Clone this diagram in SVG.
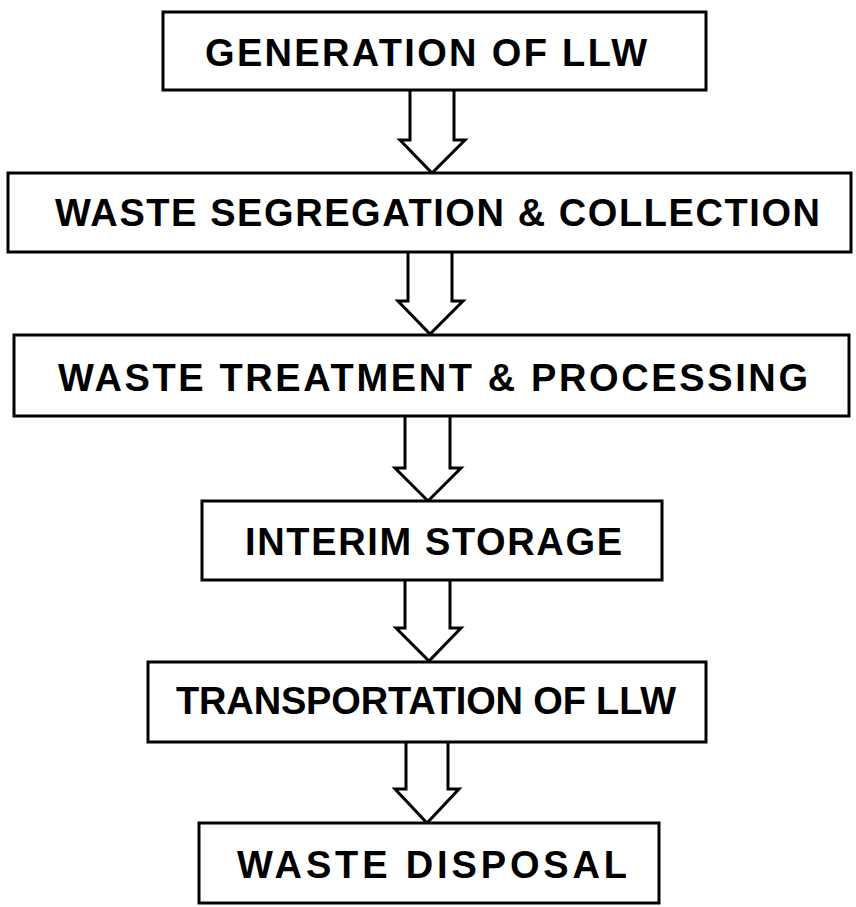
<svg xmlns="http://www.w3.org/2000/svg" width="856" height="907" viewBox="0 0 856 907">
<style>
.box{fill:#fff;stroke:#000;stroke-width:3}
.arr{fill:#fff;stroke:#000;stroke-width:3;stroke-linejoin:miter}
.lbl{font-family:"Liberation Sans",Arial,sans-serif;font-weight:bold;font-size:38px;fill:#000}
</style>
<rect width="856" height="907" fill="#fff"/>
<g id="connectors">
<path class="arr" d="M410,90 V140 H400 L432,173 L465,140 H454 V90"/>
<path class="arr" d="M408,252 V301 H398 L430,334 L463,301 H452 V252"/>
<path class="arr" d="M405,416 V468 H395 L428,501 L461,468 H450 V416"/>
<path class="arr" d="M405,580 V628 H396 L429,661 L461,628 H450 V580"/>
<path class="arr" d="M406,742 V789 H395 L427,823 L459,789 H448 V742"/>
</g>
<g id="n1"><rect class="box" x="163" y="12" width="543" height="78"/><text class="lbl" x="205" y="66" textLength="442" lengthAdjust="spacing">GENERATION OF LLW</text></g>
<g id="n2"><rect class="box" x="8" y="173" width="843" height="79"/><text class="lbl" x="55" y="226" textLength="765" lengthAdjust="spacing">WASTE SEGREGATION &amp; COLLECTION</text></g>
<g id="n3"><rect class="box" x="14" y="335" width="835" height="81"/><text class="lbl" x="58" y="391" textLength="750" lengthAdjust="spacing">WASTE TREATMENT &amp; PROCESSING</text></g>
<g id="n4"><rect class="box" x="202" y="501" width="460" height="79"/><text class="lbl" x="245" y="555" textLength="377" lengthAdjust="spacing">INTERIM STORAGE</text></g>
<g id="n5"><rect class="box" x="148" y="662" width="558" height="80"/><text class="lbl" x="176" y="714" textLength="500" lengthAdjust="spacing">TRANSPORTATION OF LLW</text></g>
<g id="n6"><rect class="box" x="199" y="823" width="460" height="80"/><text class="lbl" x="237" y="878" textLength="390" lengthAdjust="spacing">WASTE DISPOSAL</text></g>
</svg>
